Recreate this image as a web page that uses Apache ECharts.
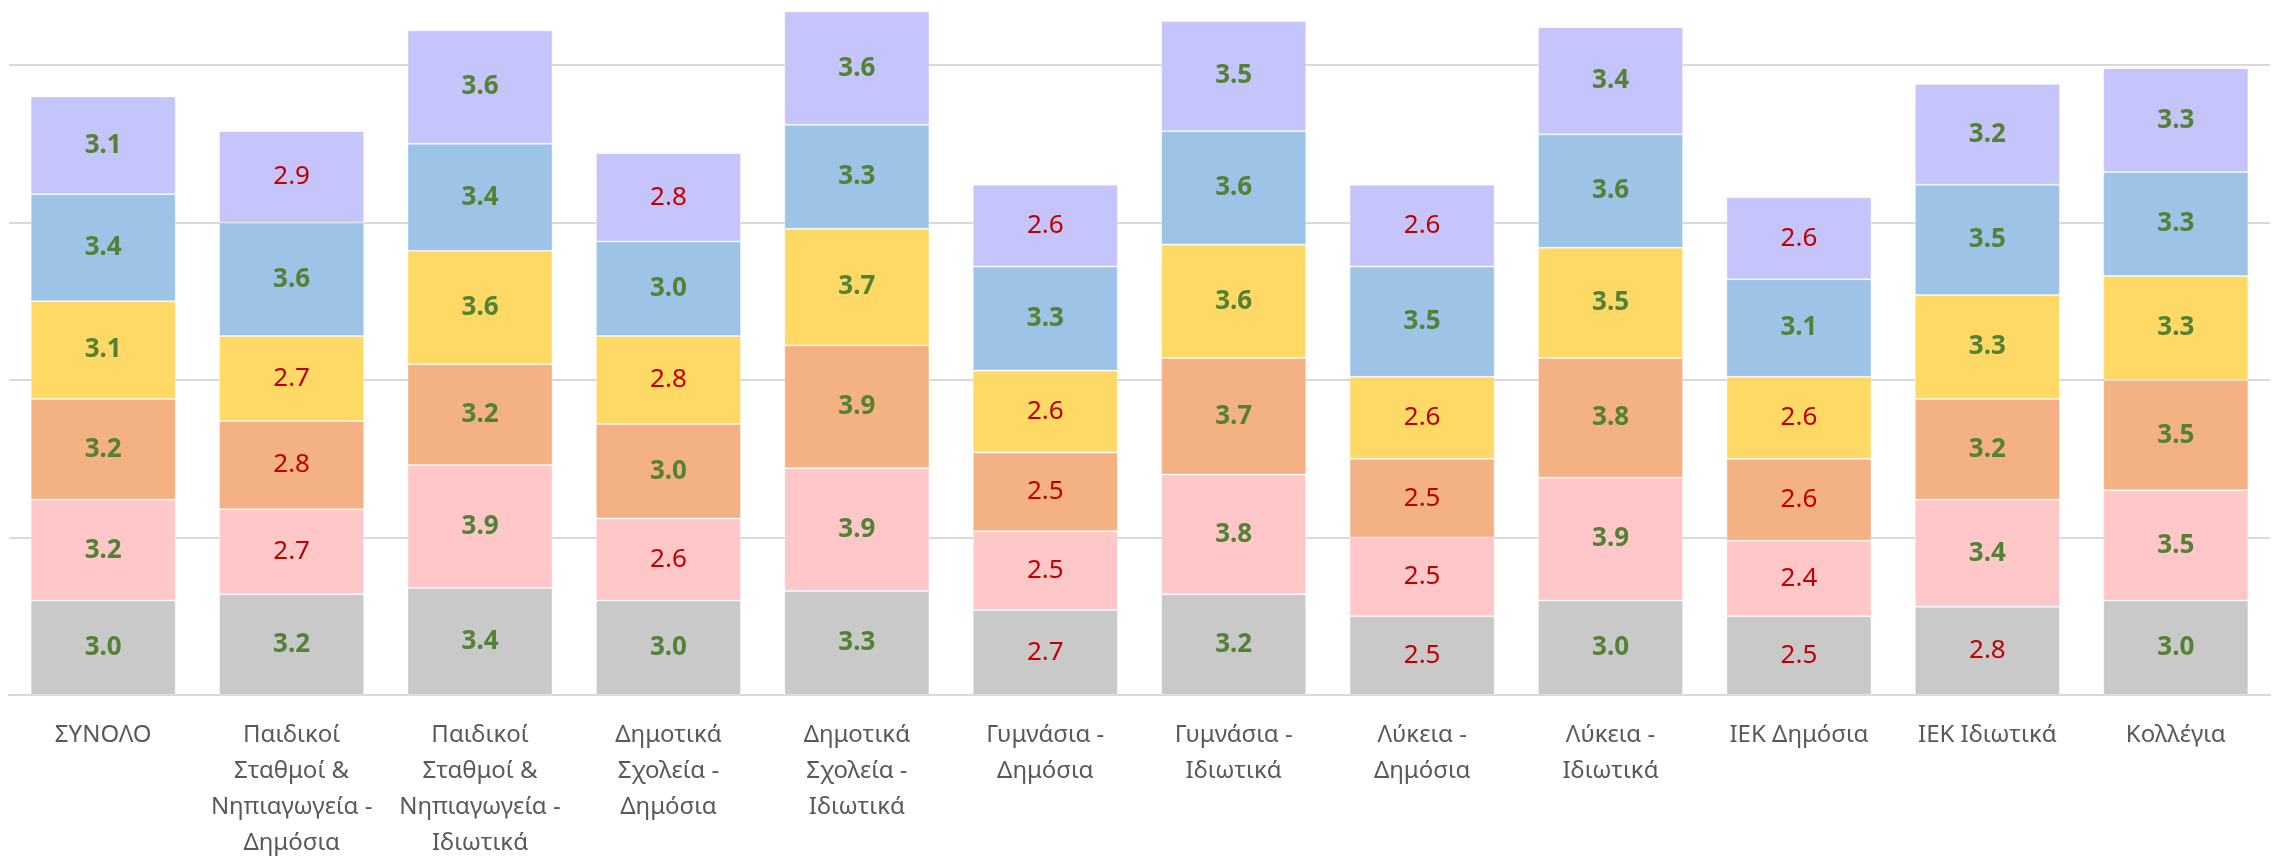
<!DOCTYPE html>
<html>
<head>
<meta charset="utf-8">
<script src="https://cdn.jsdelivr.net/npm/echarts@6/dist/echarts.min.js"></script>
<style>
html,body{margin:0;padding:0;background:#fff;}
#c{width:2273px;height:861px;}
</style>
</head>
<body>
<div id="c"></div>
<script>
const categories = [
  'ΣΥΝΟΛΟ',
  'Παιδικοί\nΣταθμοί &\nΝηπιαγωγεία -\nΔημόσια',
  'Παιδικοί\nΣταθμοί &\nΝηπιαγωγεία -\nΙδιωτικά',
  'Δημοτικά\nΣχολεία -\nΔημόσια',
  'Δημοτικά\nΣχολεία -\nΙδιωτικά',
  'Γυμνάσια -\nΔημόσια',
  'Γυμνάσια -\nΙδιωτικά',
  'Λύκεια -\nΔημόσια',
  'Λύκεια -\nΙδιωτικά',
  'ΙΕΚ Δημόσια',
  'ΙΕΚ Ιδιωτικά',
  'Κολλέγια'
];
// stacked from bottom to top
const s1 = [3.0, 3.2, 3.4, 3.0, 3.3, 2.7, 3.2, 2.5, 3.0, 2.5, 2.8, 3.0];
const s2 = [3.2, 2.7, 3.9, 2.6, 3.9, 2.5, 3.8, 2.5, 3.9, 2.4, 3.4, 3.5];
const s3 = [3.2, 2.8, 3.2, 3.0, 3.9, 2.5, 3.7, 2.5, 3.8, 2.6, 3.2, 3.5];
const s4 = [3.1, 2.7, 3.6, 2.8, 3.7, 2.6, 3.6, 2.6, 3.5, 2.6, 3.3, 3.3];
const s5 = [3.4, 3.6, 3.4, 3.0, 3.3, 3.3, 3.6, 3.5, 3.6, 3.1, 3.5, 3.3];
const s6 = [3.1, 2.9, 3.6, 2.8, 3.6, 2.6, 3.5, 2.6, 3.4, 2.6, 3.2, 3.3];
const yTicks = [0, 5, 10, 15, 20];

const seriesValues = [s1, s2, s3, s4, s5, s6];
const colors = ['#C9C9C9', '#FFC7C8', '#F4B183', '#FFD966', '#9DC3E6', '#C5C4FB'];

const font = '"Noto Sans", "Open Sans", sans-serif';

const series = seriesValues.map((vals, i) => ({
  type: 'bar',
  stack: 'total',
  clip: false,
  barCategoryGap: '23%',
  itemStyle: { color: colors[i], borderColor: 'rgba(255,255,255,0.35)', borderWidth: 1 },
  label: {
    show: true,
    position: 'inside',
    fontFamily: font,
    fontSize: 26,
    formatter: p => p.value.toFixed(1)
  },
  data: vals.map(v => ({
    value: v,
    label: v >= 3 ? { color: '#538135', fontWeight: 'bold' } : { color: '#C00000', fontWeight: 'normal' }
  }))
}));

const chart = echarts.init(document.getElementById('c'));
chart.setOption({
  animation: false,
  backgroundColor: '#fff',
  grid: { left: 9, right: 3, top: 65, bottom: 162, containLabel: false },
  xAxis: {
    type: 'category',
    data: categories,
    axisTick: { show: false },
    axisLine: { lineStyle: { color: '#D9D9D9', width: 2 } },
    axisLabel: {
      interval: 0,
      margin: 22,
      color: '#595959',
      fontFamily: font,
      fontSize: 24,
      lineHeight: 36
    }
  },
  yAxis: {
    type: 'value',
    min: yTicks[0],
    max: yTicks[yTicks.length - 1],
    interval: yTicks[1] - yTicks[0],
    axisLabel: { show: false },
    axisLine: { show: false },
    axisTick: { show: false },
    splitLine: { lineStyle: { color: '#D9D9D9', width: 2 } }
  },
  series: series
});
</script>
</body>
</html>
